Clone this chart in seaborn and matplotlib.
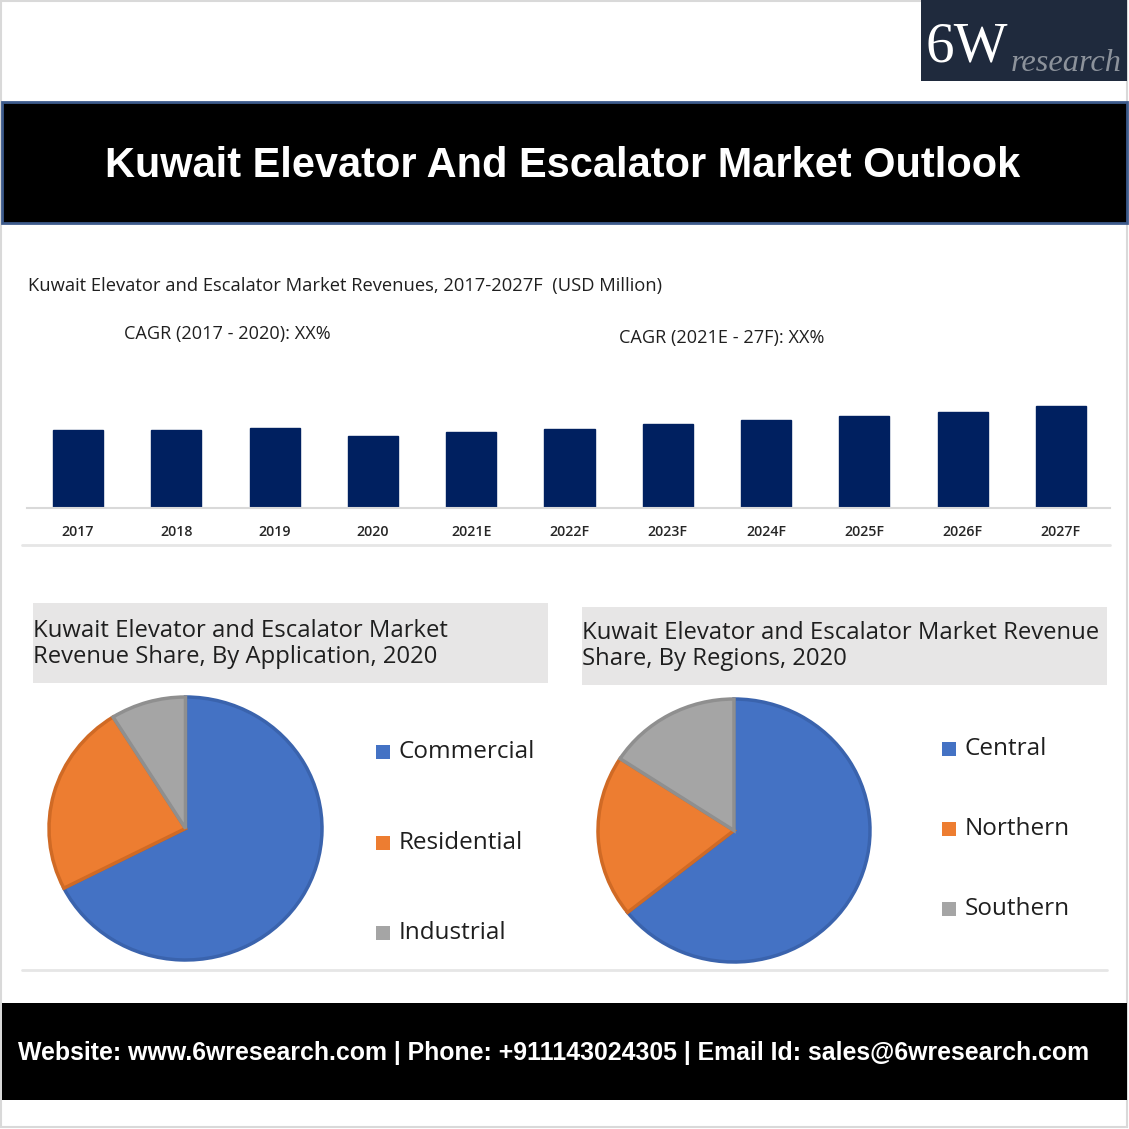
import matplotlib
matplotlib.use("Agg")
import matplotlib.pyplot as plt
import seaborn as sns
import pandas as pd
from matplotlib.patches import Rectangle

# ---------------- data ----------------
years = ["2017", "2018", "2019", "2020", "2021E", "2022F", "2023F", "2024F", "2025F", "2026F", "2027F"]
revenues = [77.7, 77.7, 80.4, 72.0, 76.0, 79.0, 83.7, 87.7, 92.4, 96.4, 102.4]

app_labels = ["Commercial", "Residential", "Industrial"]
app_shares = [67.5, 23.6, 8.9]

region_labels = ["Central", "Northern", "Southern"]
region_shares = [64.3, 19.9, 15.8]

main_title = "Kuwait Elevator And Escalator Market Outlook"
bar_title = "Kuwait Elevator and Escalator Market Revenues, 2017-2027F  (USD Million)"
cagr1 = "CAGR (2017 - 2020): XX%"
cagr2 = "CAGR (2021E - 27F): XX%"
pie1_title = "Kuwait Elevator and Escalator Market\nRevenue Share, By Application, 2020"
pie2_title = "Kuwait Elevator and Escalator Market Revenue\nShare, By Regions, 2020"
footer = "Website: www.6wresearch.com | Phone: +911143024305 | Email Id: sales@6wresearch.com"

pie_colors = ["#4472c4", "#ed7d31", "#a5a5a5"]
pie_edges = ["#3a63ad", "#d06a25", "#8f8f8f"]

sns.set_theme(style="white")
plt.rcParams["font.family"] = ["Open Sans", "DejaVu Sans"]

W = H = 1129
fig = plt.figure(figsize=(W / 100, H / 100), dpi=100)
fig.patch.set_facecolor("white")

def px(x0, y0, x1, y1):
    """convert pixel box (top-left origin) to figure fraction rect"""
    return [x0 / W, 1 - y1 / H, (x1 - x0) / W, (y1 - y0) / H]

# background overlay axes for decorations
bg = fig.add_axes([0, 0, 1, 1])
bg.set_xlim(0, W)
bg.set_ylim(H, 0)
bg.axis("off")
bg.set_zorder(-1)

# outer light frame
bg.add_patch(Rectangle((1, 1), W - 3, H - 3, fill=False, ec="#d9d9d9", lw=1.5))

# logo
bg.add_patch(Rectangle((921, 0), 206, 81, fc="#1f2a3d", ec="none"))
bg.text(926, 62, "6W", color="white", fontsize=41, family="Liberation Serif",
        va="baseline", ha="left")
bg.text(1011, 71, "research", color="#8c929b", fontsize=23.3, family="Liberation Serif",
        style="italic", va="baseline", ha="left")

# title band
bg.add_patch(Rectangle((1.5, 101.5), W - 3.5, 121, fc="black", ec="#3d5b8c", lw=2))
bg.text(563, 166, main_title, color="white", fontsize=29.9, fontweight="bold",
        family="Liberation Sans", ha="center", va="center")

# bar chart texts
txtc = "#1f1f1f"
bg.text(28, 286, bar_title, color=txtc, fontsize=13.2, ha="left", va="center")
bg.text(124, 334, cagr1, color=txtc, fontsize=13.1, ha="left", va="center")
bg.text(619, 338, cagr2, color=txtc, fontsize=13.1, ha="left", va="center")
bg.plot([22, 1110], [545, 545], color="#e6e6e6", lw=2)

# pie title boxes
bg.add_patch(Rectangle((33, 603), 515, 80, fc="#e7e6e6", ec="none"))
bg.text(33, 644, pie1_title, color=txtc, fontsize=17.2, ha="left", va="center",
        linespacing=1.12)
bg.add_patch(Rectangle((582, 607), 525, 78, fc="#e7e6e6", ec="none"))
bg.text(582, 646, pie2_title, color=txtc, fontsize=17.2, ha="left", va="center",
        linespacing=1.12)
bg.plot([22, 1107], [970, 970], color="#e6e6e6", lw=2)

# footer band
bg.add_patch(Rectangle((2, 1003), W - 4, 97, fc="black", ec="none"))
bg.text(18, 1053, footer, color="white", fontsize=17.95, fontweight="bold",
        family="Liberation Sans", ha="left", va="center")

# ---------------- bar chart ----------------
ax = fig.add_axes(px(27, 395, 1110, 508))
df = pd.DataFrame({"year": years, "revenue": revenues})
sns.barplot(data=df, x="year", y="revenue", color="#002060", width=0.51,
            saturation=1, ax=ax, edgecolor="#002060")
ax.set_xlim(-0.52, 10.5)
ax.set_ylim(0, 113)
ax.set_xlabel("")
ax.set_ylabel("")
ax.set_yticks([])
for s in ["top", "right", "left"]:
    ax.spines[s].set_visible(False)
ax.spines["bottom"].set_color("#d9d9d9")
ax.spines["bottom"].set_linewidth(1.5)
ax.tick_params(axis="x", length=0, pad=12, labelsize=10.2, labelcolor="#262626")
for lab in ax.get_xticklabels():
    lab.set_fontweight("semibold")
ax.patch.set_alpha(0)

# ---------------- pies ----------------
def draw_pie(rect, values, labels, leg_x, leg_ys):
    pax = fig.add_axes(rect)
    wedges, _ = pax.pie(values, colors=pie_colors, startangle=90, counterclock=False,
                        wedgeprops=dict(linewidth=2.5))
    for w, ec in zip(wedges, pie_edges):
        w.set_edgecolor(ec)
    pax.set_aspect("auto")
    pax.set_xlim(-1.0, 1.0)
    pax.set_ylim(-1.0, 1.0)
    pax.axis("off")
    for lab, col, ly in zip(labels, pie_colors, leg_ys):
        bg.add_patch(Rectangle((leg_x, ly - 7), 14, 14, fc=col, ec="none"))
        bg.text(leg_x + 23, ly, lab, color=txtc, fontsize=17.5, ha="left", va="center")

draw_pie(px(49, 697, 322, 960), app_shares, app_labels, 376, [752, 843, 933])
draw_pie(px(598, 699, 870, 962), region_shares, region_labels, 942, [749, 829, 909])

fig.savefig("out.png", dpi=100, facecolor="white")
